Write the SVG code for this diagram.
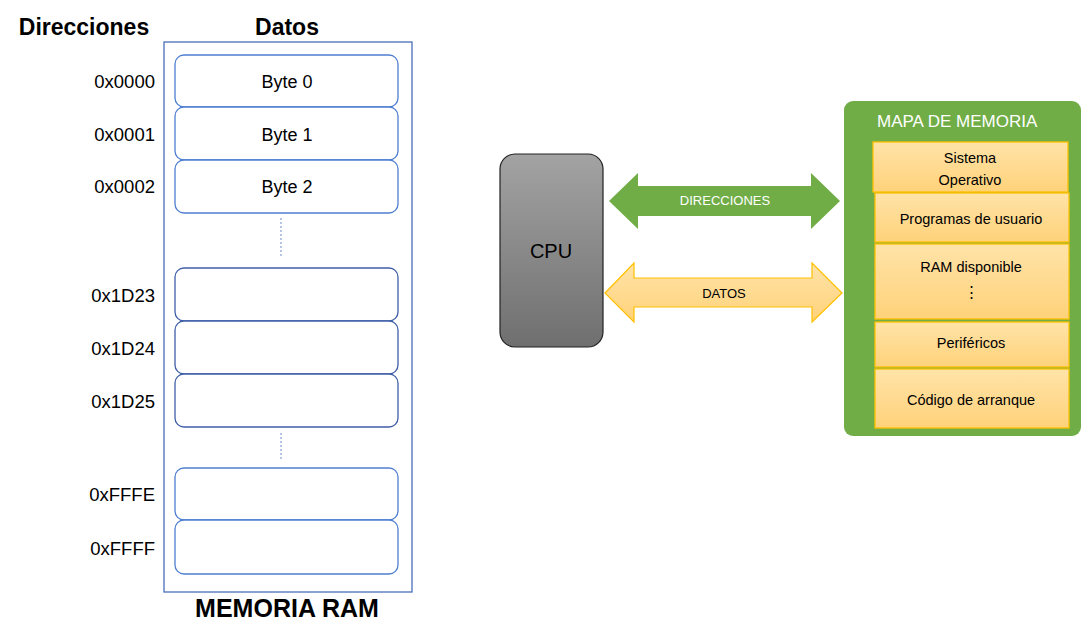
<svg xmlns="http://www.w3.org/2000/svg" width="1084" height="642" viewBox="0 0 1084 642">
<defs>
<linearGradient id="cpuG" x1="0" y1="0" x2="0" y2="1"><stop offset="0" stop-color="#a3a3a3"/><stop offset="1" stop-color="#6f6f6f"/></linearGradient>
<linearGradient id="orG" x1="0" y1="0" x2="0" y2="1"><stop offset="0" stop-color="#ffe3a8"/><stop offset="1" stop-color="#ffd27a"/></linearGradient>
<style>
.t{font-family:"Liberation Sans",Arial,sans-serif;fill:#000}
.h{font-weight:bold;font-size:23px}
.addr{font-size:18.5px;text-anchor:end}
.cell{fill:#fff;stroke:#4f7fd0;stroke-width:1.3}
.byte{font-size:18px;text-anchor:middle}
.dots{stroke:#9fb3de;stroke-width:1.5;stroke-dasharray:2 2}
.mb{fill:url(#orG);stroke:#ffc000;stroke-width:1.3}
.mt{font-size:14.5px;text-anchor:middle}
</style>
</defs>
<rect width="1084" height="642" fill="#fff"/>

<g id="ram">
<text class="t h" x="84" y="35" text-anchor="middle">Direcciones</text>
<text class="t h" x="287" y="35" text-anchor="middle">Datos</text>
<rect x="164" y="42" width="248" height="550" fill="#fff" stroke="#4a6fb8" stroke-width="1.3"/>
<text class="t h" x="287" y="617" text-anchor="middle" style="font-size:25px">MEMORIA RAM</text>
</g>

<g id="cells">
<g id="b0"><rect class="cell" x="175" y="55" width="223" height="52" rx="9"/><text class="t byte" x="287" y="88">Byte 0</text><text class="t addr" x="155" y="88">0x0000</text></g>
<g id="b1"><rect class="cell" x="175" y="107" width="223" height="53" rx="9"/><text class="t byte" x="287" y="141">Byte 1</text><text class="t addr" x="155" y="141">0x0001</text></g>
<g id="b2"><rect class="cell" x="175" y="160" width="223" height="53" rx="9"/><text class="t byte" x="287" y="193">Byte 2</text><text class="t addr" x="155" y="193">0x0002</text></g>
<line class="dots" x1="281" y1="218" x2="281" y2="258"/>
<g id="b3"><rect class="cell" x="175" y="268" width="223" height="53" rx="9" style="stroke:#3f5fa8"/><text class="t addr" x="155" y="302">0x1D23</text></g>
<g id="b4"><rect class="cell" x="175" y="321" width="223" height="53" rx="9" style="stroke:#3f5fa8"/><text class="t addr" x="155" y="355">0x1D24</text></g>
<g id="b5"><rect class="cell" x="175" y="374" width="223" height="53" rx="9" style="stroke:#3f5fa8"/><text class="t addr" x="155" y="408">0x1D25</text></g>
<line class="dots" x1="281" y1="433" x2="281" y2="460"/>
<g id="b6"><rect class="cell" x="175" y="468" width="223" height="52" rx="9"/><text class="t addr" x="155" y="501">0xFFFE</text></g>
<g id="b7"><rect class="cell" x="175" y="520" width="223" height="54" rx="9"/><text class="t addr" x="155" y="555">0xFFFF</text></g>
</g>

<g id="cpu">
<rect x="500" y="154" width="103" height="193" rx="15" fill="url(#cpuG)" stroke="#222" stroke-width="1.2"/>
<text class="t" x="551" y="258" font-size="20" text-anchor="middle">CPU</text>
</g>

<g id="connectors">
<polygon points="609,201 638,173 638,186 811,186 811,173 840,201 811,229 811,216 638,216 638,229" fill="#70ad47"/>
<text class="t" x="725" y="205" font-size="13" text-anchor="middle" style="fill:#fff">DIRECCIONES</text>
<polygon points="605,293 634,263 634,278 812,278 812,263 842,293 812,322 812,307 634,307 634,322" fill="url(#orG)" stroke="#ffc000" stroke-width="1.2"/>
<text class="t" x="724" y="298" font-size="13" text-anchor="middle">DATOS</text>
</g>

<g id="mapa">
<rect x="844" y="101" width="237" height="335" rx="9" fill="#70ad47"/>
<text class="t" x="877" y="127" font-size="17" style="fill:#fff">MAPA DE MEMORIA</text>
<g id="so"><rect class="mb" x="873" y="142" width="195" height="50"/><text class="t mt" x="970" y="163">Sistema</text><text class="t mt" x="970" y="185">Operativo</text></g>
<g id="prog"><rect class="mb" x="875" y="193" width="194" height="49"/><text class="t mt" x="971" y="224">Programas de usuario</text></g>
<g id="ramd"><rect class="mb" x="875" y="244" width="194" height="75"/><text class="t mt" x="971" y="272">RAM disponible</text><text class="t mt" x="971" y="297" font-size="18">⋮</text></g>
<g id="per"><rect class="mb" x="875" y="322" width="194" height="45"/><text class="t mt" x="971" y="348">Periféricos</text></g>
<g id="cod"><rect class="mb" x="875" y="369" width="194" height="59"/><text class="t mt" x="971" y="405">Código de arranque</text></g>
</g>
</svg>
